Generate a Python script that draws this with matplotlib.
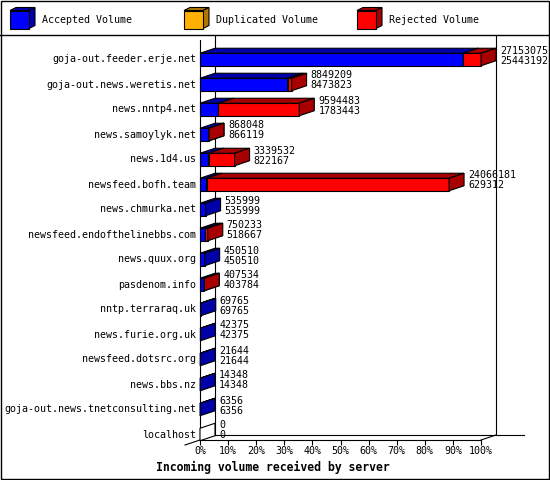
import matplotlib
matplotlib.use("Agg")
import matplotlib.pyplot as plt
from matplotlib.patches import Polygon, Rectangle
import numpy as np

plt.rcParams["font.family"] = ["DejaVu Sans Mono"]

# data
servers = [
    "goja-out.feeder.erje.net",
    "goja-out.news.weretis.net",
    "news.nntp4.net",
    "news.samoylyk.net",
    "news.1d4.us",
    "newsfeed.bofh.team",
    "news.chmurka.net",
    "newsfeed.endofthelinebbs.com",
    "news.quux.org",
    "pasdenom.info",
    "nntp.terraraq.uk",
    "news.furie.org.uk",
    "newsfeed.dotsrc.org",
    "news.bbs.nz",
    "goja-out.news.tnetconsulting.net",
    "localhost",
]
total_volume = [27153075, 8849209, 9594483, 868048, 3339532, 24066181, 535999, 750233,
                450510, 407534, 69765, 42375, 21644, 14348, 6356, 0]
accepted_volume = [25443192, 8473823, 1783443, 866119, 822167, 629312, 535999, 518667,
                   450510, 403784, 69765, 42375, 21644, 14348, 6356, 0]
duplicated_volume = [0, 0, 0, 0, 0, 0, 0, 0, 0, 0, 0, 0, 0, 0, 0, 0]
rejected_volume = [1709883, 375386, 7811040, 1929, 2517365, 23436869, 0, 231566,
                   0, 3750, 0, 0, 0, 0, 0, 0]
tick_labels = ["0%", "10%", "20%", "30%", "40%", "50%", "60%", "70%", "80%", "90%", "100%"]
legend_labels = ["Accepted Volume", "Duplicated Volume", "Rejected Volume"]

colors = [("#0000ff", "#0000a8"), ("#ffb000", "#b07800"), ("#ff0000", "#a80000")]

W, H = 550, 480
fig = plt.figure(figsize=(W / 100, H / 100), dpi=100)

# background layer in pixels: frame, legend, title
bg = fig.add_axes([0, 0, 1, 1])
bg.set_xlim(0, W)
bg.set_ylim(H, 0)
bg.axis("off")
bg.add_patch(Rectangle((0.5, 0.5), W - 1.5, H - 1.5, fill=False, ec="black", lw=1.0))
bg.plot([0, W], [35, 35], color="black", lw=1.0)

def legend_cube(x, y, fc, dk):
    w, h, d, e = 19, 18, 6, 3
    bg.add_patch(Polygon([(x, y), (x + d, y - e), (x + w + d, y - e), (x + w, y)],
                         fc=dk, ec="black", lw=0.8))
    bg.add_patch(Polygon([(x + w, y), (x + w + d, y - e), (x + w + d, y + h - e), (x + w, y + h)],
                         fc=dk, ec="black", lw=0.8))
    bg.add_patch(Rectangle((x, y), w, h, fc=fc, ec="black", lw=0.8))

for lx, lab, (fc, dk) in zip([10, 184, 357], legend_labels, colors):
    legend_cube(lx, 10.5, fc, dk)
    bg.text(lx + 32, 20, lab, fontsize=7.2, va="center", ha="left")

bg.text(156, 467, "Incoming volume received by server", fontsize=8.3,
        fontweight="bold", va="center", ha="left")

# main chart
n = len(servers)
maxv = max(total_volume)
ax = fig.add_axes([200 / W, 40 / H, 281 / W, 405 / H])
ax.set_xlim(0, maxv)
ybot, ytop = 15.22, -0.98
ax.set_ylim(ybot, ytop)
ax.patch.set_alpha(0)
for s in ["left", "right", "top"]:
    ax.spines[s].set_visible(False)
ax.spines["bottom"].set_linewidth(0.8)
ax.set_yticks([])
ax.set_xticks(np.linspace(0, maxv, 11))
ax.set_xticklabels(tick_labels)
ax.tick_params(axis="x", length=3.6, width=0.8, pad=1, labelsize=7.2)

dx = 15 / 281 * maxv
dy = 0.2
bh = 0.5
lw = 0.8

# walls / floor
ax.plot([0, 0], [ytop + dy, ybot], color="black", lw=lw, zorder=0.5, clip_on=False)
ax.plot([dx, dx], [ytop, ybot - dy], color="black", lw=lw, zorder=0.5, clip_on=False)
ax.plot([maxv + dx, maxv + dx], [ytop, ybot - dy], color="black", lw=lw, zorder=0.5, clip_on=False)
ax.plot([dx, maxv + dx + 28 / 281 * maxv], [ybot - dy, ybot - dy], color="black", lw=lw,
        zorder=0.5, clip_on=False)
ax.plot([maxv, maxv + dx], [ybot, ybot - dy], color="black", lw=lw, zorder=0.5, clip_on=False)
ax.plot([-dx, dx], [ybot + dy, ybot - dy], color="black", lw=lw, zorder=0.5, clip_on=False)

for i in range(n):
    top = i - bh / 2
    bot = i + bh / 2
    if total_volume[i] == 0:
        ax.add_patch(Polygon([(0, top), (dx, top - dy), (dx, bot - dy), (0, bot)],
                             fc="white", ec="black", lw=lw, clip_on=False))
    left = 0
    segs = [accepted_volume[i], duplicated_volume[i], rejected_volume[i]]
    for v, (fc, dk) in zip(segs, colors):
        if v == 0:
            continue
        r = left + v
        ax.barh(i, v, left=left, height=bh, color=fc, edgecolor="black", lw=lw, clip_on=False)
        ax.add_patch(Polygon([(left, top), (left + dx, top - dy), (r + dx, top - dy), (r, top)],
                             fc=dk, ec="black", lw=lw, clip_on=False))
        ax.add_patch(Polygon([(r, top), (r + dx, top - dy), (r + dx, bot - dy), (r, bot)],
                             fc=dk, ec="black", lw=lw, clip_on=False))
        left = r

    ax.annotate(servers[i], xy=(0, i), xytext=(-4, 0), textcoords="offset pixels",
                ha="right", va="center", fontsize=7.2, annotation_clip=False)
    ax.annotate(f"{total_volume[i]}\n{accepted_volume[i]}", xy=(total_volume[i] + dx, i),
                xytext=(4, 4), textcoords="offset pixels", ha="left", va="center",
                fontsize=7.2, linespacing=1.0, annotation_clip=False)

fig.savefig("out.png", dpi=100)
